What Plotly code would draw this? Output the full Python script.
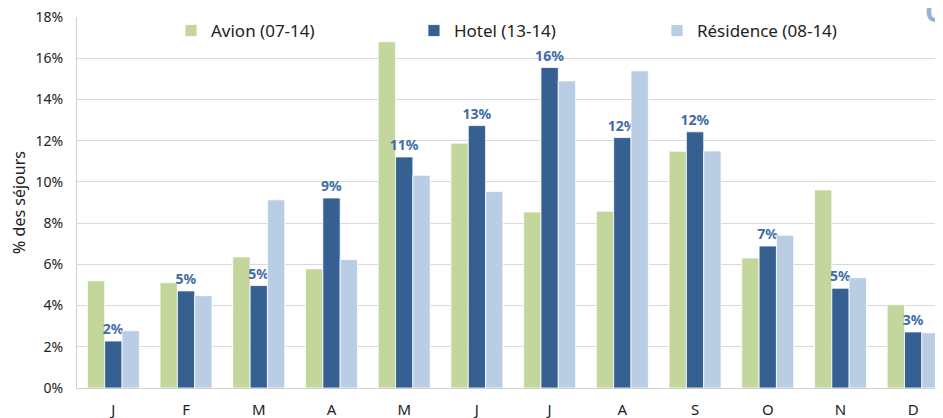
import plotly.graph_objects as go

months = ["J", "F", "M", "A", "M", "J", "J", "A", "S", "O", "N", "D"]
avion = [5.2, 5.11, 6.36, 5.78, 16.8, 11.88, 8.54, 8.58, 11.49, 6.31, 9.61, 4.04]
hotel = [2.28, 4.71, 4.97, 9.22, 11.21, 12.73, 15.55, 12.15, 12.43, 6.89, 4.84, 2.72]
residence = [2.78, 4.48, 9.13, 6.23, 10.32, 9.53, 14.9, 15.39, 11.5, 7.41, 5.35, 2.68]
names = ["Avion (07-14)", "Hotel (13-14)", "Résidence (08-14)"]
y_ticks = [0, 2, 4, 6, 8, 10, 12, 14, 16, 18]
y_ticktext = [f"{v}%" for v in y_ticks]

FONT = "Noto Sans"
x = list(range(len(months)))
PLOT_H = 371

fig = go.Figure()
fig.add_bar(x=x, y=avion, name=names[0], marker=dict(color="#c3d69b", line=dict(color="white", width=0.8)))
fig.add_bar(x=x, y=hotel, name=names[1], marker=dict(color="#376092", line=dict(color="white", width=0.8)),
            texttemplate="<b>%{y:.0f}%</b>", textposition="outside", constraintext="none",
            textfont=dict(color="#3f6ca6", size=14, family=FONT), cliponaxis=False)
fig.add_bar(x=x, y=residence, name=names[2], marker=dict(color="#b9cde5", line=dict(color="white", width=0.8)))

fig.update_layout(
    width=935, height=410,
    margin=dict(l=69, r=0, t=9, b=30, autoexpand=False),
    paper_bgcolor="white", plot_bgcolor="white",
    barmode="group", bargap=0.285, bargroupgap=0,
    font=dict(family=FONT, color="#222222"),
    showlegend=True,
    legend=dict(orientation="h", xref="paper", yref="paper",
                x=0.1085, y=1 - 14 / PLOT_H, xanchor="left", yanchor="middle",
                entrywidth=198, entrywidthmode="pixels",
                font=dict(size=17, color="#222222", family=FONT),
                bgcolor="rgba(0,0,0,0)", traceorder="normal"),
    xaxis=dict(tickmode="array", tickvals=x, ticktext=months, range=[-0.5, 11.41],
               showgrid=False, showline=True, linecolor="#d0d0d0", linewidth=1,
               ticks="", tickfont=dict(size=15, color="#222222"), ticklabelstandoff=8,
               ticklabeloverflow="allow", zeroline=False),
    yaxis=dict(range=[0, 18], tickmode="array", tickvals=y_ticks, ticktext=y_ticktext, showgrid=True,
               gridcolor="#d9d9d9", gridwidth=1, showline=True, linecolor="#d0d0d0",
               linewidth=1, ticks="", tickfont=dict(size=14, color="#222222"), ticklabelstandoff=10,
               ticklabeloverflow="allow",
               title=dict(text="% des séjours", font=dict(size=16, color="#222222"), standoff=8),
               zeroline=False),
    annotations=[dict(text="<b>O</b>", xref="paper", yref="paper", x=0.977, y=1 - 15 / PLOT_H,
                      xanchor="left", yanchor="bottom", showarrow=False,
                      font=dict(size=28, color="#95b3d7", family=FONT))],
)

fig.write_html("out.html")
